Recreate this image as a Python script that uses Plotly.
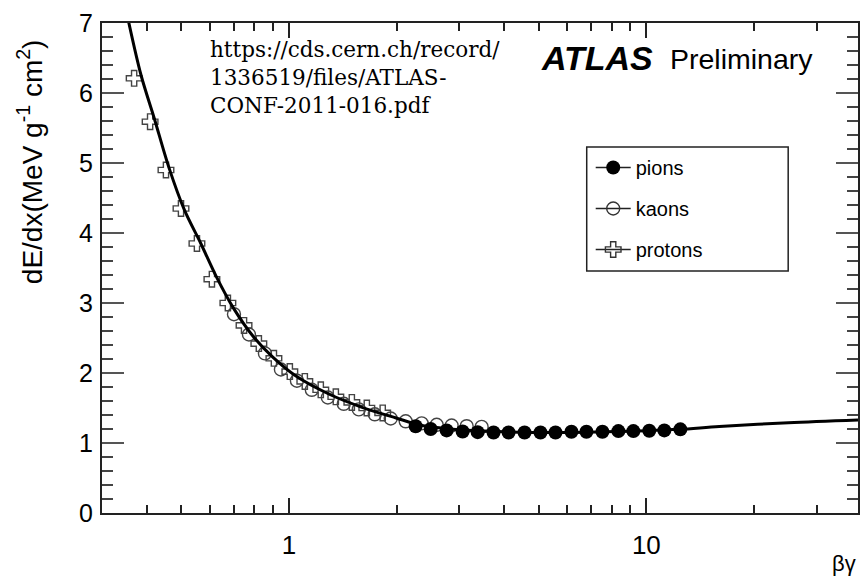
import math
import plotly.graph_objects as go

# ---- data ----
curve_x = [0.356, 0.386, 0.420, 0.462, 0.510, 0.567, 0.626, 0.699, 0.798, 0.90, 1.044, 1.293,
           1.602, 1.986, 2.357, 3.0, 4.0, 5.5, 7.5, 10.0, 12.4, 16.0, 25.0, 39.1]
curve_y = [7.02, 6.25, 5.64, 4.93, 4.33, 3.85, 3.38, 2.93, 2.51, 2.23, 1.96, 1.70,
           1.51, 1.36, 1.25, 1.19, 1.16, 1.15, 1.16, 1.175, 1.195, 1.235, 1.29, 1.33]

proton_x = [0.369, 0.409, 0.453, 0.499, 0.553, 0.609, 0.675, 0.749, 0.824, 0.908, 1.006,
            1.108, 1.228, 1.353, 1.500, 1.652, 1.830]
proton_y = [6.21, 5.59, 4.90, 4.35, 3.85, 3.34, 3.00, 2.68, 2.42, 2.21, 2.02,
            1.88, 1.76, 1.66, 1.58, 1.50, 1.43]

kaon_x = [0.702, 0.773, 0.857, 0.950, 1.053, 1.159, 1.285, 1.424, 1.569, 1.739, 1.927,
          2.122, 2.352, 2.591, 2.853, 3.143, 3.461]
kaon_y = [2.84, 2.55, 2.28, 2.05, 1.89, 1.76, 1.65, 1.56, 1.48, 1.41, 1.35,
          1.31, 1.28, 1.26, 1.25, 1.24, 1.23]

pion_x = [2.263, 2.493, 2.763, 3.062, 3.373, 3.737, 4.117, 4.563, 5.057, 5.570, 6.173,
          6.799, 7.536, 8.352, 9.198, 10.19, 11.23, 12.45]
pion_y = [1.24, 1.20, 1.18, 1.165, 1.155, 1.15, 1.15, 1.15, 1.15, 1.15, 1.16,
          1.16, 1.16, 1.17, 1.17, 1.175, 1.18, 1.195]

x_major_ticks = [1, 10]
x_major_labels = ["1", "10"]
x_minor_ticks = [0.3, 0.4, 0.5, 0.6, 0.7, 0.8, 0.9, 2, 3, 4, 5, 6, 7, 8, 9, 20, 30]
series_names = ["pions", "kaons", "protons"]

W, H = 860, 577
ML, MR, MT, MB = 102, 0, 23, 64
PW, PH = W - ML - MR, H - MT - MB


def px(xp):
    return (xp - ML) / PW


def py(yp):
    return (H - MB - yp) / PH


AX = "#222222"
SANS = "Liberation Sans, Arial, sans-serif"
fig = go.Figure()

fig.add_trace(go.Scatter(x=proton_x, y=proton_y, mode="markers", showlegend=False,
                         marker=dict(symbol="cross-open", size=13, color="#444444",
                                     line=dict(width=1.4, color="#444444"))))
fig.add_trace(go.Scatter(x=kaon_x, y=kaon_y, mode="markers", showlegend=False,
                         marker=dict(symbol="circle-open", size=13, color="#444444",
                                     line=dict(width=1.4, color="#444444"))))
fig.add_trace(go.Scatter(x=curve_x, y=curve_y, mode="lines", showlegend=False,
                         line=dict(color="black", width=3, shape="spline", smoothing=0.9)))
fig.add_trace(go.Scatter(x=pion_x, y=pion_y, mode="markers", showlegend=False,
                         marker=dict(symbol="circle", size=14, color="black", line=dict(width=0))))

# legend entries (ROOT-style line + marker)
leg_markers = [dict(symbol="circle", size=14, color="black", line=dict(width=0)),
               dict(symbol="circle-open", size=13, color="#333333", line=dict(width=1.4, color="#333333")),
               dict(symbol="cross-open", size=13, color="#333333", line=dict(width=1.4, color="#333333"))]
for i, (nm, mk) in enumerate(zip(series_names, leg_markers)):
    fig.add_trace(go.Scatter(x=[None], y=[None], mode="lines+markers", name=nm,
                             legendgroup=f"g{i}", marker=mk,
                             line=dict(color="#222222", width=1.5)))

axis_font = dict(family=SANS, color="black")

fig.update_layout(
    width=W, height=H,
    margin=dict(l=ML, r=MR, t=MT, b=MB),
    paper_bgcolor="white", plot_bgcolor="white",
    font=dict(family=SANS, color="black"),
    xaxis=dict(type="log", range=[math.log10(0.3), math.log10(39.1)],
               showline=True, linecolor=AX, linewidth=2, mirror="ticks",
               ticks="inside", ticklen=15, tickwidth=1.5, tickcolor=AX,
               tickmode="array", tickvals=x_major_ticks, ticktext=x_major_labels,
               tickfont=dict(size=26, **axis_font), ticklabelstandoff=8,
               showgrid=False, zeroline=False,
               minor=dict(tickmode="array", tickvals=x_minor_ticks, ticks="inside",
                          ticklen=8, tickwidth=1.5, tickcolor=AX, showgrid=False)),
    yaxis=dict(range=[0, 7], dtick=1, tick0=0,
               showline=True, linecolor=AX, linewidth=2, mirror="ticks",
               ticks="inside", ticklen=22, tickwidth=1.5, tickcolor="#555555",
               tickfont=dict(size=25, **axis_font), ticklabelstandoff=2,
               showgrid=False, zeroline=False,
               minor=dict(dtick=0.2, ticks="inside", ticklen=11, tickwidth=1.5,
                          tickcolor="#444444", showgrid=False)),
    legend=dict(x=px(592), y=py(148), xanchor="left", yanchor="top",
                bgcolor="rgba(0,0,0,0)", borderwidth=0,
                font=dict(size=20, family=SANS, color="black"),
                traceorder="grouped", tracegroupgap=12, itemwidth=35),
    shapes=[dict(type="rect", xref="paper", yref="paper",
                 x0=px(588), x1=px(790), y0=py(271), y1=py(147),
                 line=dict(color="#222222", width=1.5), fillcolor="rgba(0,0,0,0)")],
    annotations=[
        dict(text="dE/dx(MeV g<sup>-1</sup> cm<sup>2</sup>)", textangle=-90,
             xref="paper", yref="paper", x=px(30), y=py(162),
             xanchor="center", yanchor="middle", showarrow=False,
             font=dict(size=28, family=SANS, color="black")),
        dict(text="βγ", xref="paper", yref="paper", x=1.0, y=py(563),
             xanchor="right", yanchor="middle", showarrow=False,
             font=dict(size=22, family=SANS, color="black")),
        dict(text="<b><i>ATLAS</i></b>", xref="paper", yref="paper", x=px(540), y=py(58),
             xanchor="left", yanchor="middle", showarrow=False,
             font=dict(size=34, family=SANS, color="black")),
        dict(text="Preliminary", xref="paper", yref="paper", x=px(669), y=py(59),
             xanchor="left", yanchor="middle", showarrow=False,
             font=dict(size=28.5, family=SANS, color="black")),
        dict(text="https://cds.cern.ch/record/<br>1336519/files/ATLAS-<br>CONF-2011-016.pdf",
             xref="paper", yref="paper", x=px(208), y=py(35), align="left",
             xanchor="left", yanchor="top", showarrow=False,
             font=dict(size=21.5, family="DejaVu Serif, serif", color="black")),
    ],
)

fig.write_html("out.html")
